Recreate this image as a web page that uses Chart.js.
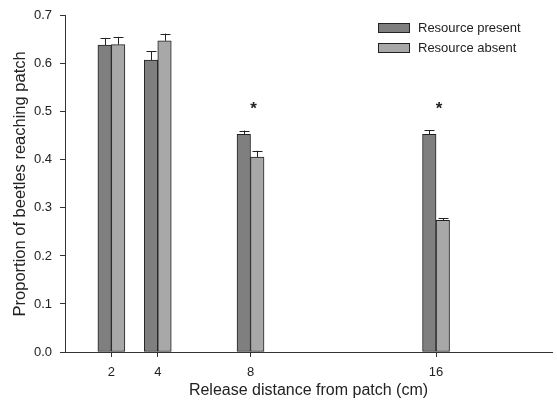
<!DOCTYPE html>
<html>
<head>
<meta charset="utf-8">
<script src="https://cdn.jsdelivr.net/npm/chart.js@4.4.1/dist/chart.umd.min.js"></script>
<style>
html,body{margin:0;padding:0;background:#fff;}
#wrap{width:557px;height:403px;}
</style>
</head>
<body>
<div id="wrap"><canvas id="c" width="557" height="403"></canvas></div>
<script>
const distances = [2, 4, 8, 16];
const xTickValues = [2, 4, 8, 16];
const presentValues = [0.639, 0.608, 0.453, 0.453];
const presentErrors = [0.015, 0.018, 0.008, 0.009];
const absentValues = [0.640, 0.648, 0.406, 0.274];
const absentErrors = [0.016, 0.015, 0.013, 0.005];
const seriesNames = ['Resource present', 'Resource absent'];
const significantAt = [8, 16];

const FONT = "'Liberation Sans', Arial, sans-serif";
const INK = '#222';

const errorBarPlugin = {
  id: 'errorBars',
  afterDatasetsDraw(chart) {
    const ctx = chart.ctx;
    const ys = chart.scales.y;
    ctx.save();
    ctx.strokeStyle = INK;
    ctx.lineWidth = 1;
    chart.data.datasets.forEach((ds, di) => {
      const meta = chart.getDatasetMeta(di);
      meta.data.forEach((bar, i) => {
        const v = ds.data[i].y, e = ds.errors[i];
        const top = ys.getPixelForValue(v + e);
        const x = Math.round(bar.x) + 0.5;
        ctx.beginPath();
        ctx.moveTo(x, bar.y);
        ctx.lineTo(x, top);
        ctx.moveTo(x - 5, Math.round(top) + 0.5);
        ctx.lineTo(x + 5, Math.round(top) + 0.5);
        ctx.stroke();
      });
    });
    // significance stars
    ctx.fillStyle = INK;
    ctx.font = 'bold 17px ' + FONT;
    ctx.textAlign = 'center';
    ctx.textBaseline = 'middle';
    significantAt.forEach(xv => {
      const i = distances.indexOf(xv);
      let maxTop = 0;
      chart.data.datasets.forEach(ds => { maxTop = Math.max(maxTop, ds.data[i].y + ds.errors[i]); });
      const px = chart.scales.x.getPixelForValue(xv) + 3;
      const py = ys.getPixelForValue(maxTop) - 21;
      ctx.fillText('*', px, py);
    });
    // legend
    ctx.font = '13px ' + FONT;
    ctx.textAlign = 'left';
    chart.data.datasets.forEach((ds, di) => {
      const bx = 378, by = 23 + di * 20;
      ctx.fillStyle = ds.backgroundColor;
      ctx.fillRect(bx, by, 32, 10);
      ctx.strokeStyle = INK;
      ctx.strokeRect(bx + 0.5, by + 0.5, 31, 9);
      ctx.fillStyle = INK;
      ctx.fillText(ds.label, 418, by + 5);
    });
    ctx.restore();
  }
};

const mk = (vals, errs, label, color) => ({
  label,
  data: distances.map((d, i) => ({ x: d, y: vals[i] })),
  errors: errs,
  backgroundColor: color,
  borderColor: INK,
  borderWidth: 1,
  barThickness: 13.5,
  borderSkipped: false
});

new Chart(document.getElementById('c'), {
  type: 'bar',
  data: {
    datasets: [
      mk(presentValues, presentErrors, seriesNames[0], '#7f7f7f'),
      mk(absentValues, absentErrors, seriesNames[1], '#a8a8a8')
    ]
  },
  options: {
    responsive: false,
    animation: false,
    devicePixelRatio: 1,
    layout: { padding: { left: 0, top: 10, right: 5, bottom: 0 } },
    plugins: { legend: { display: false }, tooltip: { enabled: false } },
    scales: {
      x: {
        type: 'linear',
        offset: false,
        min: 0, max: 21,
        afterBuildTicks: s => { s.ticks = xTickValues.map(v => ({ value: v })); },
        afterFit: s => { s.height = 51; },
        grid: { display: true, offset: false, drawOnChartArea: false, drawTicks: true, tickLength: 5, color: '#333' },
        border: { display: true, color: '#333', width: 1 },
        ticks: { autoSkip: false, maxRotation: 0, padding: 8, color: INK, font: { family: FONT, size: 13 } },
        title: { display: true, text: 'Release distance from patch (cm)', color: INK, font: { family: FONT, size: 16 }, padding: { top: 0, bottom: 2.4 } }
      },
      y: {
        min: 0, max: 0.7,
        afterFit: s => { s.width = 65; },
        grid: { display: true, drawOnChartArea: false, drawTicks: true, tickLength: 5, color: '#333' },
        border: { display: true, color: '#333', width: 1 },
        ticks: { stepSize: 0.1, padding: 8, color: INK, font: { family: FONT, size: 13 }, callback: v => v.toFixed(1) },
        title: { display: true, text: 'Proportion of beetles reaching patch', color: INK, font: { family: FONT, size: 16.5 }, padding: { top: 10.1, bottom: 0 } }
      }
    }
  },
  plugins: [errorBarPlugin]
});
</script>
</body>
</html>
